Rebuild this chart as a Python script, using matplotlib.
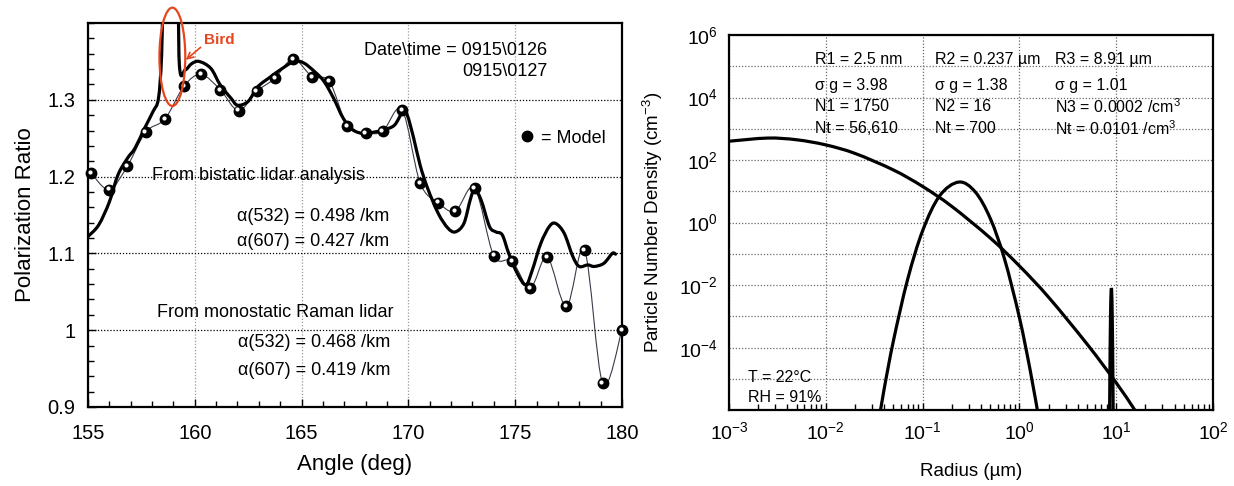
import numpy as np
import matplotlib
matplotlib.use('Agg')
import matplotlib.pyplot as plt
from matplotlib.path import Path
from matplotlib.patches import PathPatch, Ellipse
from matplotlib.lines import Line2D
from matplotlib.ticker import MultipleLocator, FixedLocator, NullFormatter, FuncFormatter, LogLocator
from matplotlib.transforms import offset_copy

plt.rcParams['font.family'] = ['Liberation Sans', 'DejaVu Sans']
plt.rcParams['mathtext.default'] = 'regular'

# polarization ratio, measured (two scans) vs model
ang_meas = [155.0, 155.5, 156.0, 156.4, 156.85, 157.2, 157.65, 158.05, 158.3, 158.45,
            158.6, 159.15, 159.28, 159.55, 159.85, 160.2, 160.75, 161.2, 161.7, 162.0,
            162.5, 162.95, 163.55, 164.0, 164.65, 165.1, 165.6, 166.05, 166.5, 166.95,
            167.4, 167.9, 168.4, 168.85, 169.35, 169.75, 169.95, 170.25, 170.55, 170.9,
            171.4, 171.85, 172.2, 172.6, 172.9, 173.1, 173.4, 173.8, 174.1, 174.4,
            174.7, 175.1, 175.5, 175.8, 176.2, 176.6, 176.9, 177.3, 177.7, 178.0,
            178.4, 178.7, 179.15, 179.55, 179.7]
pr_meas = [1.122, 1.137, 1.167, 1.202, 1.224, 1.237, 1.263, 1.285, 1.302, 1.36,
           1.5, 1.5, 1.345, 1.339, 1.347, 1.350, 1.341, 1.319, 1.302, 1.293,
           1.298, 1.317, 1.330, 1.339, 1.350, 1.348, 1.337, 1.324, 1.302, 1.276,
           1.261, 1.256, 1.258, 1.261, 1.267, 1.285, 1.280, 1.250, 1.215, 1.185,
           1.152, 1.133, 1.128, 1.139, 1.170, 1.183, 1.170, 1.135, 1.128, 1.124,
           1.100, 1.074, 1.059, 1.078, 1.113, 1.135, 1.139, 1.126, 1.096, 1.083,
           1.085, 1.083, 1.087, 1.100, 1.099]

ang_model = [155.13, 156.0, 156.85, 157.7, 158.6, 159.5, 160.3, 161.2, 162.05, 162.9,
             163.75, 164.6, 165.5, 166.3, 167.15, 168.0, 168.8, 169.7, 170.55, 171.4,
             172.2, 173.1, 174.0, 174.85, 175.7, 176.5, 177.4, 178.25, 179.1, 180.0]
pr_model = [1.205, 1.183, 1.214, 1.258, 1.275, 1.318, 1.333, 1.313, 1.286, 1.311,
            1.328, 1.353, 1.330, 1.324, 1.266, 1.257, 1.259, 1.287, 1.192, 1.166,
            1.155, 1.185, 1.097, 1.090, 1.055, 1.095, 1.031, 1.104, 0.931, 1.000]

# size distribution, three lognormal modes (radius in um, density in cm^-3)
r_mode1 = [0.001, 0.0025, 0.005, 0.01, 0.02, 0.05, 0.1, 0.2, 0.5, 1, 2, 5, 10, 15, 20]
n_mode1 = [400, 505, 445, 305, 163, 48, 14.3, 3.3, 0.32, 0.041, 4.1e-3, 1.3e-4, 7.5e-6, 1.2e-6, 3e-7]
r_mode2 = [0.035, 0.04, 0.05, 0.07, 0.1, 0.15, 0.237, 0.35, 0.5, 0.7, 1.0, 1.3, 1.6]
n_mode2 = [4e-7, 4.7e-6, 1.7e-4, 0.0153, 0.55, 7.2, 19.8, 9.5, 1.35, 0.07, 9.1e-4, 1.7e-5, 4.6e-7]
r_mode3 = [8.5, 8.6, 8.7, 8.8, 8.91, 9.0, 9.1, 9.2, 9.3]
n_mode3 = [1.1e-7, 1.4e-5, 4.5e-4, 3.7e-3, 8.0e-3, 4.8e-3, 8.5e-4, 4.6e-5, 7.6e-7]

mode_cols = [['R1 = 2.5 nm', 'σ g = 3.98', 'N1 = 1750', 'Nt = 56,610'],
             ['R2 = 0.237 µm', 'σ g = 1.38', 'N2 = 16', 'Nt = 700'],
             ['R3 = 8.91 µm', 'σ g = 1.01', r'N3 = 0.0002 /cm$^3$', r'Nt = 0.0101 /cm$^3$']]


# smooth bezier curve through the points (catmull-rom style)
def smooth(xs, ys):
    pts = np.column_stack([xs, ys]).astype(float)
    n = len(pts)
    verts = [pts[0]]
    codes = [Path.MOVETO]
    for i in range(n - 1):
        p0 = pts[max(i - 1, 0)]
        p1 = pts[i]
        p2 = pts[i + 1]
        p3 = pts[min(i + 2, n - 1)]
        verts += [p1 + (p2 - p0) / 6., p2 - (p3 - p1) / 6., p2]
        codes += [Path.CURVE4] * 3
    return np.array(verts), codes


def smooth_loglog(xs, ys):
    v, c = smooth(np.log10(xs), np.log10(ys))
    return Path(10.0 ** v, c)


fig = plt.figure(figsize=(12.34, 4.86), dpi=100)
ax1 = fig.add_axes([0.0713, 0.1626, 0.4327, 0.790])
ax2 = fig.add_axes([0.5908, 0.156, 0.3922, 0.772])

gridkw = dict(linestyle=(0, (1, 1.5)), linewidth=0.9)

# ---- left: polarization ratio
v, c = smooth(ang_meas, pr_meas)
ax1.add_patch(PathPatch(Path(v, c), fill=False, lw=2.3, ec='k', zorder=4, capstyle='round', joinstyle='round'))
v, c = smooth(ang_model, pr_model)
ax1.add_patch(PathPatch(Path(v, c), fill=False, lw=0.8, ec='#3a3a4a', zorder=3))
ax1.plot(ang_model, pr_model, 'o', color='k', ms=7.5, zorder=5, clip_on=False)
ax1.plot(ang_model, pr_model, 'o', color='white', ms=2, zorder=6, clip_on=False,
         transform=offset_copy(ax1.transData, fig=fig, x=-0.9, y=0.9, units='points'))

ax1.set_xlim(155, 180)
ax1.set_ylim(0.9, 1.4)
ax1.xaxis.set_major_locator(MultipleLocator(5))
ax1.xaxis.set_minor_locator(MultipleLocator(1))
ax1.yaxis.set_major_locator(FixedLocator([0.9, 1.0, 1.1, 1.2, 1.3]))
ax1.yaxis.set_minor_locator(MultipleLocator(0.02))
ax1.yaxis.set_major_formatter(FuncFormatter(lambda v, p: '%g' % round(v, 2)))
ax1.grid(axis='y', which='major', color='k', **gridkw)
ax1.grid(axis='x', which='major', color='#9a9a9a', **gridkw)
ax1.tick_params(which='both', direction='in', width=1, labelsize=14.5)
ax1.tick_params(which='major', length=6)
ax1.tick_params(which='minor', length=4)
ax1.tick_params(axis='x', pad=12)
ax1.tick_params(axis='y', pad=9)
ax1.set_xlabel('Angle (deg)', fontsize=16, labelpad=8)
ax1.set_ylabel('Polarization Ratio', fontsize=16, labelpad=8)
for s in ax1.spines.values():
    s.set_linewidth(1.6)

red = '#e6461e'
ax1.add_patch(Ellipse((158.95, 1.356), 1.21, 0.128, fill=False, ec=red, lw=1.6, clip_on=False, zorder=7))
ax1.annotate('Bird', xy=(159.58, 1.352), xytext=(160.45, 1.378), color=red, fontsize=11,
             fontweight='bold', ha='left', va='center', annotation_clip=False,
             arrowprops=dict(arrowstyle='->', color=red, lw=1.2, shrinkA=1, shrinkB=0, relpos=(0, 0.2)))

ax1.text(0.860, 0.900, 'Date\\time = 0915\\0126\n0915\\0127', transform=ax1.transAxes,
         ha='right', va='center', multialignment='right', fontsize=13, linespacing=1.3)
ax1.legend(handles=[Line2D([], [], marker='o', ls='none', color='k', ms=7.5)], labels=['= Model'],
           frameon=False, loc='center left', bbox_to_anchor=(0.805, 0.700), fontsize=13,
           handlelength=1.0, handletextpad=0.3, borderpad=0, borderaxespad=0)

ax1.text(0.120, 0.602, 'From bistatic lidar analysis', transform=ax1.transAxes, fontsize=13, va='center')
ax1.text(0.279, 0.497, 'α(532) = 0.498 /km', transform=ax1.transAxes, fontsize=13, va='center')
ax1.text(0.279, 0.432, 'α(607) = 0.427 /km', transform=ax1.transAxes, fontsize=13, va='center')
ax1.text(0.129, 0.245, 'From monostatic Raman lidar', transform=ax1.transAxes, fontsize=13, va='center')
ax1.text(0.281, 0.167, 'α(532) = 0.468 /km', transform=ax1.transAxes, fontsize=13, va='center')
ax1.text(0.281, 0.096, 'α(607) = 0.419 /km', transform=ax1.transAxes, fontsize=13, va='center')

# ---- right: particle number density
ax2.set_xscale('log')
ax2.set_yscale('log')
ax2.set_xlim(1e-3, 1e2)
ax2.set_ylim(1e-6, 1e6)
for r, n in [(r_mode1, n_mode1), (r_mode2, n_mode2), (r_mode3, n_mode3)]:
    ax2.add_patch(PathPatch(smooth_loglog(r, n), fill=False, lw=2.3, ec='k', zorder=4))

ax2.yaxis.set_major_locator(FixedLocator(10.0 ** np.arange(-6, 7, 2)))
ax2.yaxis.set_minor_locator(FixedLocator(10.0 ** np.arange(-5, 6, 2)))
ax2.yaxis.set_minor_formatter(NullFormatter())
ax2.yaxis.set_major_formatter(FuncFormatter(
    lambda v, p: '' if v < 1e-5 else r'$10^{%d}$' % round(np.log10(v))))
ax2.xaxis.set_major_locator(LogLocator(base=10, numticks=10))
ax2.xaxis.set_minor_locator(LogLocator(base=10, subs=np.arange(2, 10), numticks=20))
ax2.xaxis.set_minor_formatter(NullFormatter())
ax2.grid(axis='y', which='both', color='#6a6a6a', **gridkw)
ax2.grid(axis='x', which='major', color='#6a6a6a', **gridkw)
ax2.tick_params(which='both', direction='in', width=1, labelsize=14)
ax2.tick_params(which='major', length=5)
ax2.tick_params(which='minor', length=4)
ax2.tick_params(axis='y', which='both', length=0, pad=8)
ax2.tick_params(axis='x', pad=8)
ax2.set_xlabel('Radius (µm)', fontsize=13.5, labelpad=14)
ax2.set_ylabel('Particle Number Density (cm$^{-3}$)', fontsize=13.5, labelpad=10)
for s in ax2.spines.values():
    s.set_linewidth(1.6)

cols = [0.178, 0.426, 0.674]
rows = [0.939, 0.869, 0.813, 0.755]
for cx, lines in zip(cols, mode_cols):
    for ry, s in zip(rows, lines):
        ax2.text(cx, ry, s, transform=ax2.transAxes, fontsize=11.5, va='center_baseline')
ax2.text(0.039, 0.088, 'T = 22°C', transform=ax2.transAxes, fontsize=11.5, va='center')
ax2.text(0.039, 0.035, 'RH = 91%', transform=ax2.transAxes, fontsize=11.5, va='center')

fig.savefig('out.png', dpi=100)
